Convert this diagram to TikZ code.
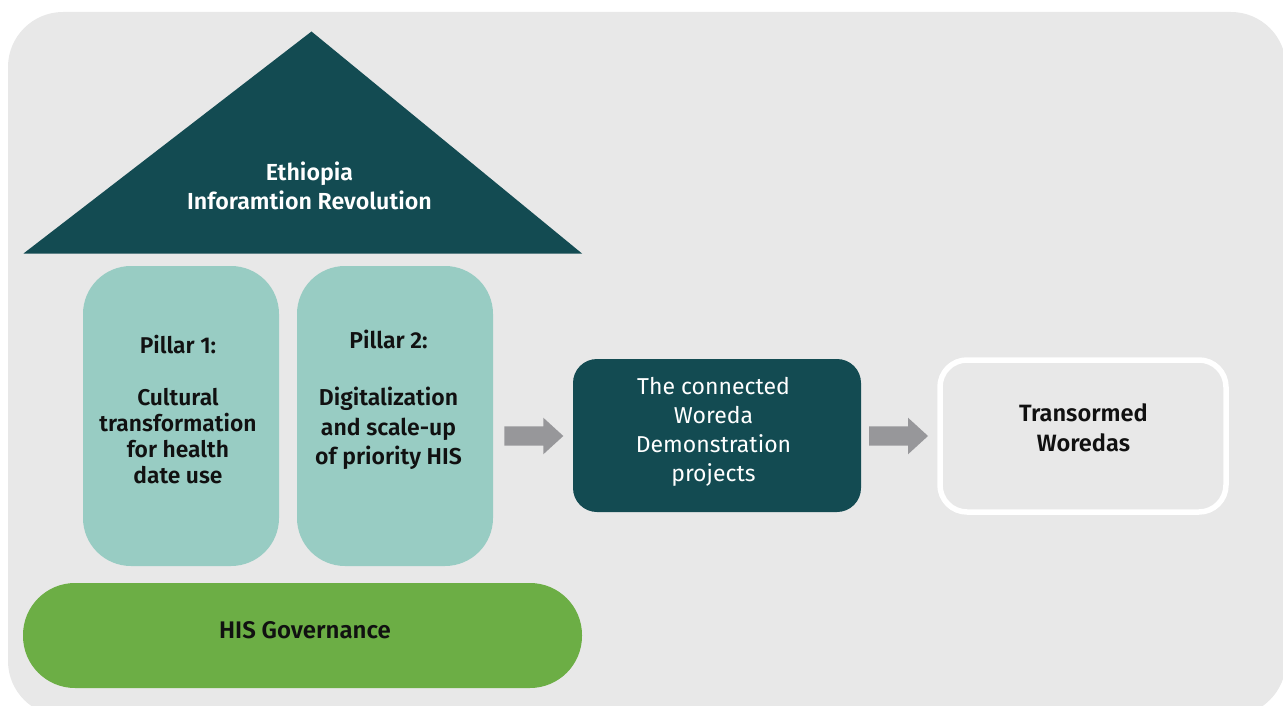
\documentclass[tikz,border=0pt]{standalone}
\usepackage{fontspec}
\setmainfont{Fira Sans}[BoldFont={* SemiBold}]
\definecolor{panel}{HTML}{E8E8E8}
\definecolor{roof}{HTML}{134B52}
\definecolor{pillar}{HTML}{98CCC3}
\definecolor{govgreen}{HTML}{6CAE45}
\definecolor{arrowgray}{HTML}{97979A}
\definecolor{ink}{HTML}{111111}

% gray block arrow whose tail centre sits at the given coordinate
\newcommand{\grayarrow}[1]{%
  \fill[arrowgray] (#1) ++(0,-9.7) -- ++(39,0) -- ++(0,-8.6) -- ++(20,18.3)
    -- ++(-20,18.3) -- ++(0,-8.6) -- ++(-39,0) -- cycle;}

\begin{document}
\begin{tikzpicture}[x=1pt,y=-1pt,
  lbl/.style={align=center, inner sep=0pt, text=ink, font=\bfseries},
  pillarbox/.style={fill=pillar, rounded corners=48pt, minimum width=196pt,
    minimum height=300pt, inner sep=0pt},
  govbox/.style={fill=govgreen, rounded corners=52pt, minimum width=559pt,
    minimum height=105pt, inner sep=0pt},
  demobox/.style={fill=roof, rounded corners=24pt, minimum width=288pt,
    minimum height=153pt, inner sep=0pt},
  outcomebox/.style={draw=white, line width=5.5pt, rounded corners=27pt,
    minimum width=286pt, minimum height=152pt, inner sep=0pt}]

\useasboundingbox (0,0) rectangle (1283,706);
\clip (0,0) rectangle (1283,706);

% panel behind everything
\fill[panel, rounded corners=55pt] (8,12) rectangle (1286,716);

% roof
\fill[roof] (23.5,253.5) -- (311.5,31.5) -- (582,253.5) -- cycle;
\node[lbl, text=white, font=\bfseries\fontsize{23.2}{29}\selectfont]
  (roofText) at (309.5,185.6) {Ethiopia\\Inforamtion Revolution};

% pillars
\node[pillarbox] (p1) at (181,416) {};
\node[pillarbox] (p2) at (395,416) {};
\node[lbl, font=\bfseries\fontsize{22.8}{26}\selectfont] (p1Text) at (178,410)
  {Pillar 1:\\[26pt]Cultural\\transformation\\for health\\date use};
\node[lbl, font=\bfseries\fontsize{23}{29.3}\selectfont] (p2Text) at (388.5,399.8)
  {Pillar 2:\\[28pt]Digitalization\\and scale-up\\of priority HIS};

% foundation
\node[govbox] (gov) at (302.5,635.5) {};
\node[lbl, font=\bfseries\fontsize{24}{28}\selectfont] (govText) at (305,630)
  {HIS Governance};

% demonstration projects
\node[demobox] (demo) at (717,435.5) {};
\node[lbl, text=white, font=\fontsize{23}{29.2}\selectfont] (demoText)
  at (713.5,431.8) {The connected\\Woreda\\Demonstration\\projects};

% outcome
\node[outcomebox] (woredas) at (1083,436) {};
\node[lbl, font=\bfseries\fontsize{23.6}{29.5}\selectfont] (woredasText)
  at (1083.5,428) {Transormed\\Woredas};

% flow arrows
\coordinate (arrowA) at (504.3,436);
\coordinate (arrowB) at (869,436);
\grayarrow{arrowA}
\grayarrow{arrowB}
\end{tikzpicture}
\end{document}
